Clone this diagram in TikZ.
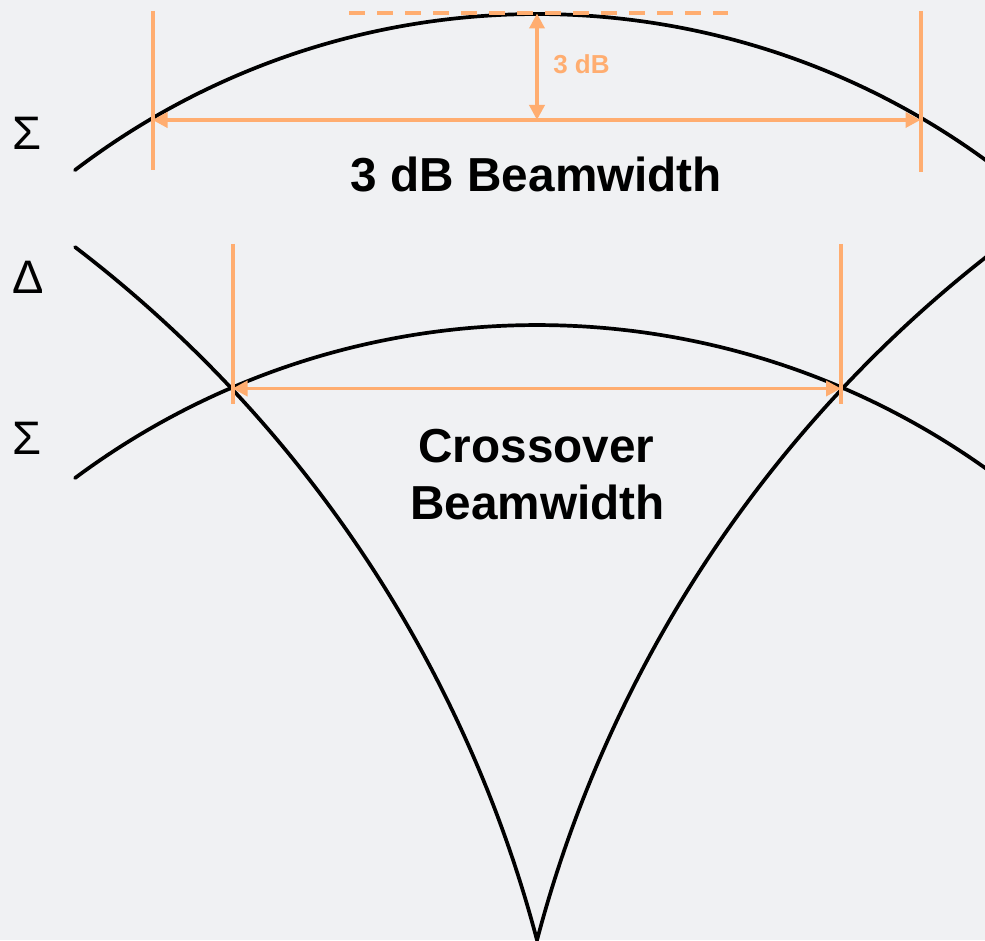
\documentclass[tikz,border=0pt]{standalone}
\usepackage{fontspec}
\setmainfont{Liberation Sans}
\usetikzlibrary{arrows.meta}
\definecolor{bgc}{RGB}{240,241,243}
\definecolor{dimc}{RGB}{255,173,112}
\begin{document}
\begin{tikzpicture}[x=1pt,y=1pt,
  beam/.style={draw=black,line width=3.7pt,line cap=round},
  dimline/.style={draw=dimc,line width=4pt},
  dimarrow/.style={draw=dimc,line width=3.6pt,{Triangle[length=15pt,width=15pt]}-{Triangle[length=15pt,width=15pt]}},
  dimdash/.style={draw=dimc,line width=4pt,dash pattern=on 16pt off 12pt},
  biglabel/.style={font=\fontsize{47.7}{57}\selectfont\bfseries,text=black,inner sep=0pt,anchor=base},
  smalllabel/.style={font=\fontsize{26}{30}\selectfont\bfseries,text=dimc,inner sep=0pt,anchor=base},
  symlabel/.style={font=\fontsize{47}{57}\selectfont,text=black,inner sep=0pt,anchor=base}]
\useasboundingbox (0,0) rectangle (985,940);
\fill[bgc] (0,0) rectangle (985,940);
\clip (0,0) rectangle (985,940);

% beam patterns
\draw[beam] (537,164) ++(127.33:762) arc[start angle=127.33,end angle=52.67,radius=762];
\draw[beam] (537,-159) ++(126.65:774) arc[start angle=126.65,end angle=53.35,radius=774];
\draw[beam] (-704.6,-327.2) ++(52.61:1284) arc[start angle=52.61,end angle=14.76,radius=1284];
\draw[beam] (1778.6,-327.2) ++(165.24:1284) arc[start angle=165.24,end angle=127.39,radius=1284];

% top dimension
\coordinate (tlT) at (152.5,929);
\coordinate (tlB) at (152.5,770);
\coordinate (trT) at (920.5,929);
\coordinate (trB) at (920.5,768);
\coordinate (hl) at (152.5,820);
\coordinate (hr) at (920.5,820);
\coordinate (vt) at (537,926.5);
\coordinate (vb) at (537,820);
\coordinate (dl) at (349,926.5);
\coordinate (dr) at (728,926.5);
\draw[dimline] (tlT) -- (tlB);
\draw[dimline] (trT) -- (trB);
\draw[dimdash] (dl) -- (dr);
\draw[dimarrow] (hl) -- (hr);
\draw[dimarrow] (vb) -- (vt);

% crossover dimension
\coordinate (clT) at (232.5,696);
\coordinate (clB) at (232.5,536);
\coordinate (crT) at (841,696);
\coordinate (crB) at (841,536);
\coordinate (cl) at (232.5,551.5);
\coordinate (cr) at (841,551.5);
\draw[dimline] (clT) -- (clB);
\draw[dimline] (crT) -- (crB);
\draw[dimarrow] (cl) -- (cr);

% labels
\node[smalllabel] (db) at (581.5,866) {3 dB};
\node[biglabel] (bw) at (536.5,748) {3 dB Beamwidth};
\node[biglabel] (co1) at (536.5,477) {Crossover};
\node[biglabel] (co2) at (537.5,420) {Beamwidth};
\node[symlabel] (s1) at (27.5,790) {Σ};
\node[symlabel] (d1) at (28,646) {Δ};
\node[symlabel] (s2) at (27.5,485) {Σ};
\end{tikzpicture}
\end{document}
